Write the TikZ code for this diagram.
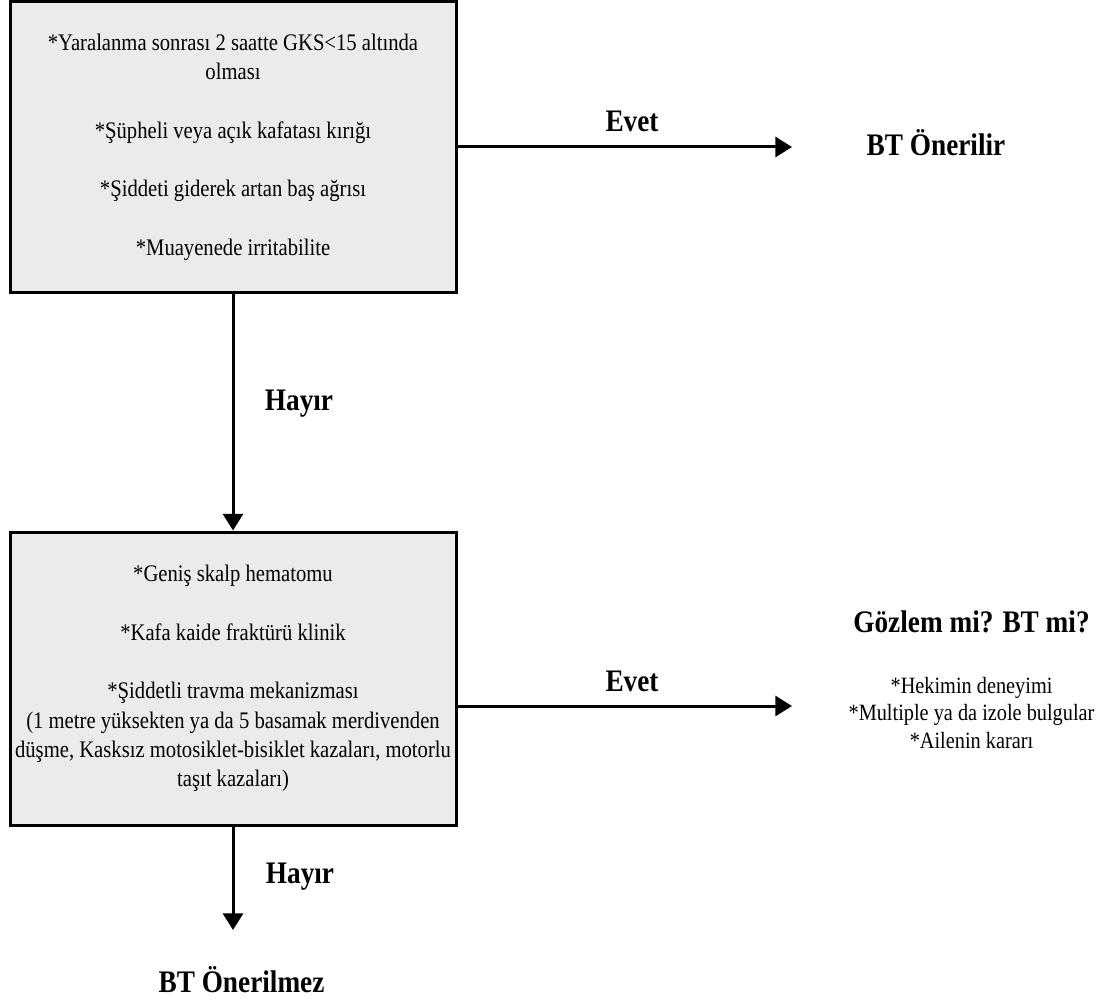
\documentclass[tikz,border=0pt]{standalone}
\usepackage{fontspec}
\setmainfont{Liberation Serif}[FakeStretch=0.87]
\usetikzlibrary{arrows.meta}
\definecolor{boxgrau}{RGB}{235,235,235}
\tikzset{
  kasten/.style={draw, line width=2.25pt, fill=boxgrau, align=center,
    minimum width=334.5pt, inner sep=0pt, font=\fontsize{17.8}{22}\selectfont},
  pfeil/.style={line width=2.25pt, -{Triangle[length=12.5pt,width=15pt]}},
  etikett/.style={font=\fontsize{23.5}{28}\selectfont\bfseries, anchor=base},
  liste/.style={font=\fontsize{17.5}{20.6}\selectfont, align=center, anchor=base}
}
\begin{document}
\begin{tikzpicture}[x=0.75pt,y=-0.75pt]
  \useasboundingbox (0,0) rectangle (1112,1002);
  % Kasten 1
  \node[kasten, minimum height=217.5pt] (box1) at (233,147)
    {*Yaralanma sonrası 2 saatte GKS<15 altında\\ olması\\[22pt]
     *Şüpheli veya açık kafatası kırığı\\[22pt]
     *Şiddeti giderek artan baş ağrısı\\[22pt]
     *Muayenede irritabilite};
  % Kasten 2
  \node[kasten, minimum height=219.75pt] (box2) at (233,678.5)
    {*Geniş skalp hematomu\\[22pt]
     *Kafa kaide fraktürü klinik\\[22pt]
     *Şiddetli travma mekanizması\\
     (1 metre yüksekten ya da 5 basamak merdivenden\\
     düşme, Kasksız motosiklet-bisiklet kazaları, motorlu\\
     taşıt kazaları)};
  % Ergebnisse
  \node[etikett] (oneri) at (936,156) {BT Önerilir};
  \node[etikett] (gozlem) at (971.5,632) {Gözlem mi? BT mi?};
  \node[liste] (kriter) at (971.5,748)
    {*Hekimin deneyimi\\ *Multiple ya da izole bulgular\\ *Ailenin kararı};
  \node[etikett] (onerilmez) at (241.5,992) {BT Önerilmez};
  % Pfeilenden
  \coordinate (ende1) at (792,147);
  \coordinate (ende2) at (792,706);
  \coordinate (ende3) at (233,930);
  % Pfeile
  \draw[pfeil] (box1.east) -- (ende1);
  \draw[pfeil] (box2.east |- ende2) -- (ende2);
  \draw[pfeil] (box1.south) -- (box2.north);
  \draw[pfeil] (box2.south) -- (ende3);
  % Beschriftung
  \node[etikett] (evet1) at (632,132) {Evet};
  \node[etikett] (evet2) at (632,691) {Evet};
  \node[etikett] (hayir1) at (299,410) {Hayır};
  \node[etikett] (hayir2) at (300,883) {Hayır};
\end{tikzpicture}
\end{document}
